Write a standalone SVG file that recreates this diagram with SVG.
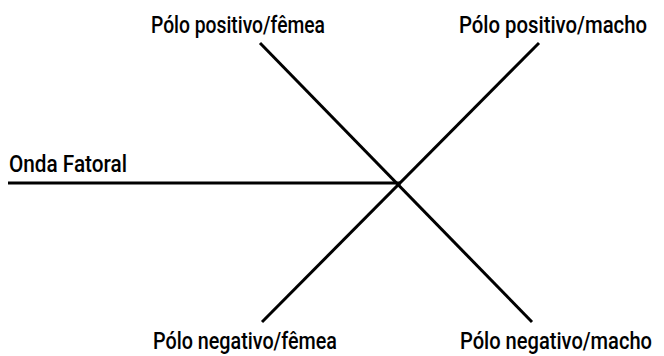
<svg xmlns="http://www.w3.org/2000/svg" width="664" height="356" viewBox="0 0 664 356">
<style>
.lbl{font-family:Roboto,"Liberation Sans",sans-serif;font-size:21px;font-weight:500;fill:#000;}
.ln{stroke:#000;stroke-width:3;fill:none;}
</style>
<rect width="664" height="356" fill="#fff"/>
<g id="connectors">
<line class="ln" x1="8" y1="183" x2="401" y2="183"/>
<line class="ln" x1="260" y1="43" x2="532" y2="322"/>
<line class="ln" x1="539" y1="43" x2="262" y2="322"/>
</g>
<g id="onda" transform="translate(9,172) scale(1,1.15)"><text class="lbl" x="0" y="0" textLength="118" lengthAdjust="spacingAndGlyphs">Onda Fatoral</text></g>
<g id="pos-femea" transform="translate(151,33) scale(1,1.15)"><text class="lbl" x="0" y="0" textLength="174" lengthAdjust="spacingAndGlyphs">Pólo positivo/fêmea</text></g>
<g id="pos-macho" transform="translate(459,33) scale(1,1.15)"><text class="lbl" x="0" y="0" textLength="188" lengthAdjust="spacingAndGlyphs">Pólo positivo/macho</text></g>
<g id="neg-femea" transform="translate(153,349) scale(1,1.15)"><text class="lbl" x="0" y="0" textLength="184" lengthAdjust="spacingAndGlyphs">Pólo negativo/fêmea</text></g>
<g id="neg-macho" transform="translate(460,349) scale(1,1.15)"><text class="lbl" x="0" y="0" textLength="192" lengthAdjust="spacingAndGlyphs">Pólo negativo/macho</text></g>
</svg>
